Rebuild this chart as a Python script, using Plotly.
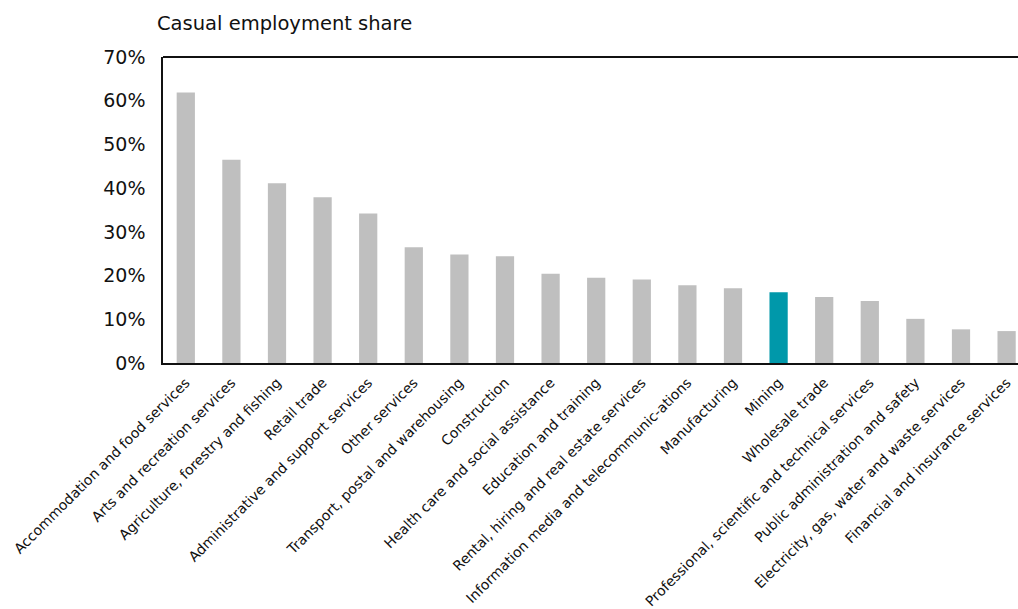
import plotly.graph_objects as go

# Casual employment share by industry (%)
industries = [
    "Accommodation and food services",
    "Arts and recreation services",
    "Agriculture, forestry and fishing",
    "Retail trade",
    "Administrative and support services",
    "Other services",
    "Transport, postal and warehousing",
    "Construction",
    "Health care and social assistance",
    "Education and training",
    "Rental, hiring and real estate services",
    "Information media and telecommunic-ations",
    "Manufacturing",
    "Mining",
    "Wholesale trade",
    "Professional, scientific and technical services",
    "Public administration and safety",
    "Electricity, gas, water and waste services",
    "Financial and insurance services",
]
casual_share = [61.9, 46.5, 41.1, 37.9, 34.2, 26.5, 24.8, 24.4, 20.4, 19.5,
                19.1, 17.8, 17.1, 16.2, 15.1, 14.2, 10.1, 7.7, 7.3]
highlight = "Mining"

y_ticks = [0, 10, 20, 30, 40, 50, 60, 70]
y_tick_labels = [f"{v}%" for v in y_ticks]

GREY = "#BFBFBF"
TEAL = "#0098AA"
INK = "#111111"
FONT = "DejaVu Sans"

colors = [TEAL if name == highlight else GREY for name in industries]

fig = go.Figure(
    go.Bar(
        x=list(range(len(industries))),
        y=casual_share,
        marker=dict(color=colors, line=dict(width=0)),
        width=0.4,
        hoverinfo="skip",
    )
)

fig.update_layout(
    width=1018,
    height=609,
    margin=dict(l=163, r=0, t=57, b=246),
    paper_bgcolor="white",
    plot_bgcolor="white",
    showlegend=False,
    font=dict(family=FONT, color=INK),
    title=dict(
        text="Casual employment share",
        font=dict(family=FONT, size=19.5, color=INK),
        xref="container",
        yref="container",
        x=157 / 1018,
        xanchor="left",
        y=1 - 23 / 609,
        yanchor="middle",
    ),
    # top edge of the plot frame (the right edge runs off the page)
    shapes=[
        dict(
            type="line",
            xref="paper",
            yref="paper",
            x0=0,
            x1=1,
            y0=1,
            y1=1,
            line=dict(color=INK, width=2),
        )
    ],
)

fig.update_xaxes(
    tickmode="array",
    tickvals=list(range(len(industries))),
    ticktext=industries,
    tickangle=-45,
    tickfont=dict(family=FONT, size=14, color=INK),
    range=[-0.5, 18.25],
    showgrid=False,
    zeroline=False,
    showline=True,
    linecolor=INK,
    linewidth=2,
    ticks="",
    automargin=False,
    ticklabelstandoff=4,
)

fig.update_yaxes(
    tickmode="array",
    tickvals=y_ticks,
    ticktext=y_tick_labels,
    tickfont=dict(family=FONT, size=19, color=INK),
    range=[0, 70],
    showgrid=False,
    zeroline=False,
    showline=True,
    linecolor=INK,
    linewidth=1.5,
    ticks="",
    automargin=False,
    ticklabelstandoff=12,
)

fig.write_html("out.html")
